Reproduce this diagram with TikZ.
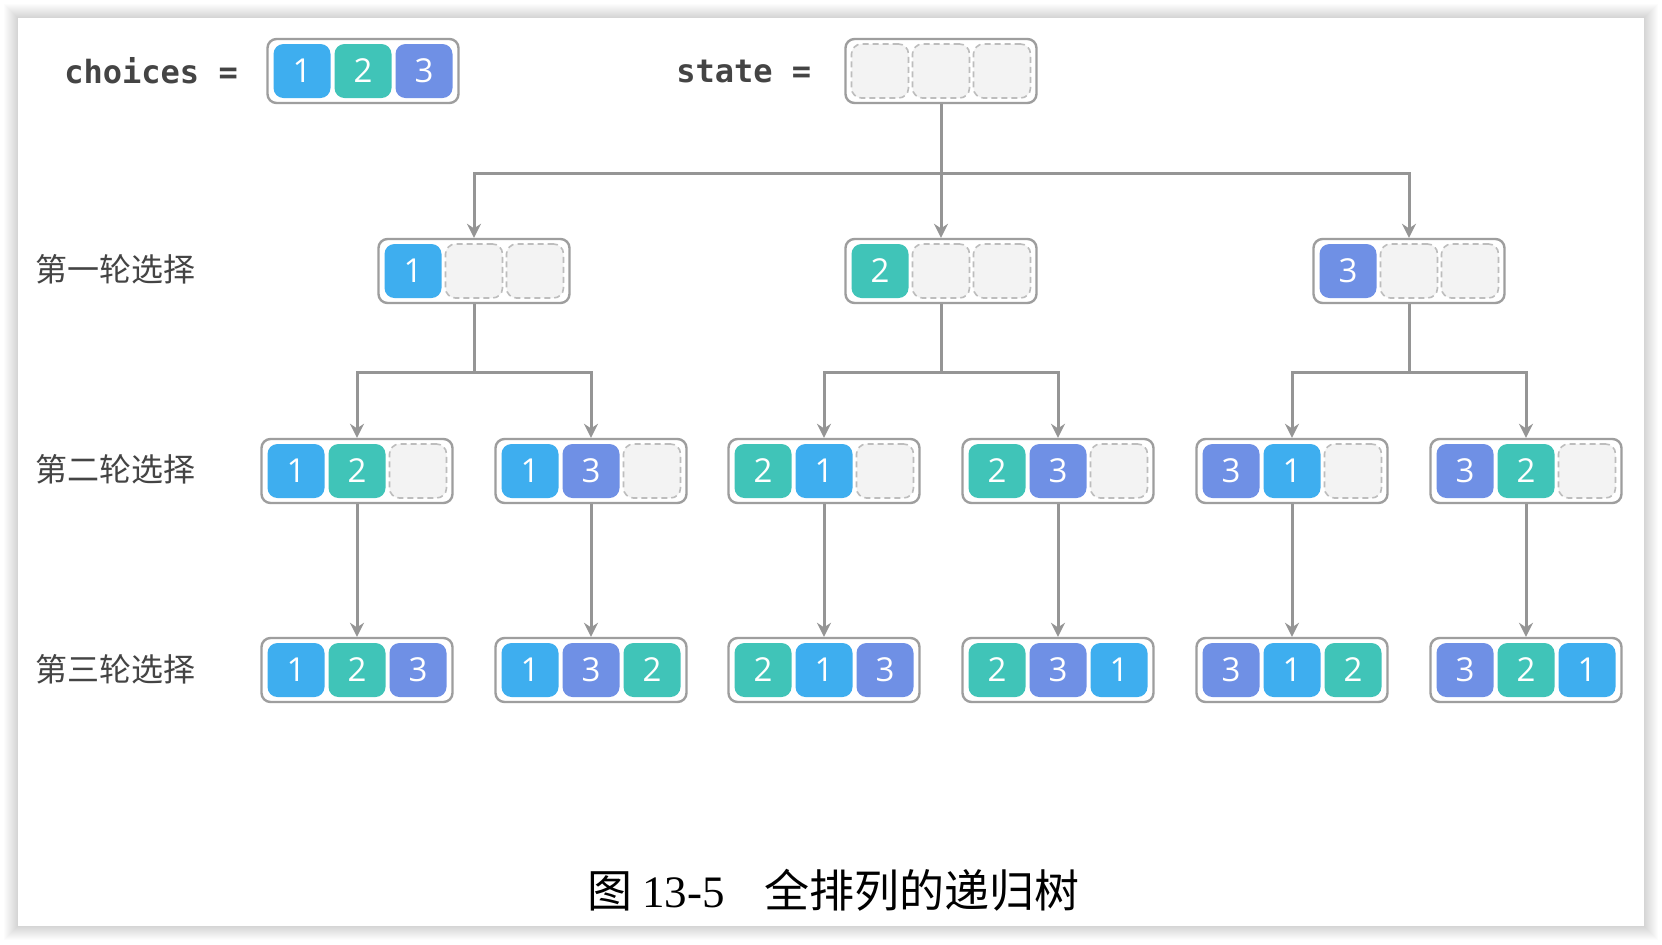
\documentclass[tikz,border=0pt]{standalone}
\usepackage{fontspec}
\setmainfont{Open Sans}
\setmonofont{DejaVu Sans Mono}
\newfontfamily\cjk{Noto Sans CJK SC}
\newfontfamily\capserif{Liberation Serif}
\usetikzlibrary{arrows.meta,calc}

\definecolor{col1}{HTML}{3EAEEF}
\definecolor{col2}{HTML}{40C4B8}
\definecolor{col3}{HTML}{6F90E5}
\definecolor{framegray}{HTML}{9E9E9E}
\definecolor{linegray}{HTML}{959595}
\definecolor{slotgray}{HTML}{BDBDBD}
\definecolor{slotfill}{HTML}{F3F3F3}
\definecolor{textgray}{HTML}{444444}

\tikzset{
  frame/.style={draw=framegray, line width=1.2pt, rounded corners=4.5pt, fill=white,
    minimum width=95.5pt, minimum height=32pt, inner sep=0pt},
  cell/.style={rounded corners=5pt, minimum width=28.5pt, minimum height=27pt,
    inner sep=0pt, text=white, font=\fontsize{16.5}{16.5}\selectfont},
  emptycell/.style={cell, draw=slotgray, dash pattern=on 3pt off 2pt,
    line width=0.8pt, fill=slotfill},
  link/.style={draw=linegray, line width=1.5pt},
  arrow/.style={link, -{Stealth[length=7pt,width=7pt]}},
  roundlabel/.style={text=textgray, font=\cjk\fontsize{16}{16}\selectfont,
    anchor=west, inner sep=0pt},
  codetext/.style={text=textgray, font=\ttfamily\bfseries\fontsize{16}{16}\selectfont,
    anchor=west, inner sep=0pt}
}

% one state: frame plus three cells (0 = empty cell)
\newcommand{\slots}[3]{%
  \node[frame] (#1) at (#2) {};
  \foreach \d [count=\k] in {#3} {%
    \ifnum\d=0
      \node[emptycell] (#1-\k) at ($(#1.center)+({(\k-2)*61},0)$) {};
    \else
      \node[cell, fill=col\d] (#1-\k) at ($(#1.center)+({(\k-2)*61},0)$) {\d};
    \fi
  }%
}

\begin{document}
\begin{tikzpicture}[x=0.5pt, y=-0.5pt]

    \useasboundingbox (0,0) rectangle (1662,944);

    % --- card with soft shadow ---
    \foreach \s in {1,...,14} {%
        \fill[black, opacity=0.012] (18-\s,18-\s) rectangle (1644+\s,926+\s);
    }
    \fill[white] (18,18) rectangle (1644,926);

    % --- top row ---
    \node[codetext] (chl) at (64,71) {choices =};
    \slots{ch}{363,71}{1,2,3}
    \node[codetext] (stl) at (676,71) {state =};
    \slots{s}{941,71}{0,0,0}

    % --- round labels ---
    \node[roundlabel] (r1) at (35,269) {第一轮选择};
    \node[roundlabel] (r2) at (35,469) {第二轮选择};
    \node[roundlabel] (r3) at (35,669) {第三轮选择};

    % --- first round ---
    \slots{a1}{474,271}{1,0,0}
    \slots{a2}{941,271}{2,0,0}
    \slots{a3}{1409,271}{3,0,0}

    % --- second round ---
    \slots{b1}{357,471}{1,2,0}
    \slots{b2}{591,471}{1,3,0}
    \slots{b3}{824,471}{2,1,0}
    \slots{b4}{1058,471}{2,3,0}
    \slots{b5}{1292,471}{3,1,0}
    \slots{b6}{1526,471}{3,2,0}

    % --- third round ---
    \slots{c1}{357,670}{1,2,3}
    \slots{c2}{591,670}{1,3,2}
    \slots{c3}{824,670}{2,1,3}
    \slots{c4}{1058,670}{2,3,1}
    \slots{c5}{1292,670}{3,1,2}
    \slots{c6}{1526,670}{3,2,1}

    % --- connectors ---
    \coordinate (j0) at ($(s.south)+(0,69)$);
    \draw[link] (s.south) -- (j0);
    \draw[arrow] (j0) -| (a1.north);
    \draw[arrow] (j0) -- (a2.north);
    \draw[arrow] (j0) -| (a3.north);

    \foreach \i/\l/\r in {1/1/2, 2/3/4, 3/5/6} {%
        \coordinate (j\i) at ($(a\i.south)+(0,68)$);
        \draw[link] (a\i.south) -- (j\i);
        \draw[arrow] (j\i) -| (b\l.north);
        \draw[arrow] (j\i) -| (b\r.north);
    }
    \foreach \i in {1,...,6} {%
        \draw[arrow] (b\i.south) -- (c\i.north);
    }

    % --- caption ---
    \node[anchor=west, inner sep=0pt, font=\fontsize{22.5}{22.5}\selectfont] (cap) at (587,890)
        {\cjk 图 \capserif 13-5\hspace{20pt}\cjk 全排列的递归树};

\end{tikzpicture}
\end{document}
